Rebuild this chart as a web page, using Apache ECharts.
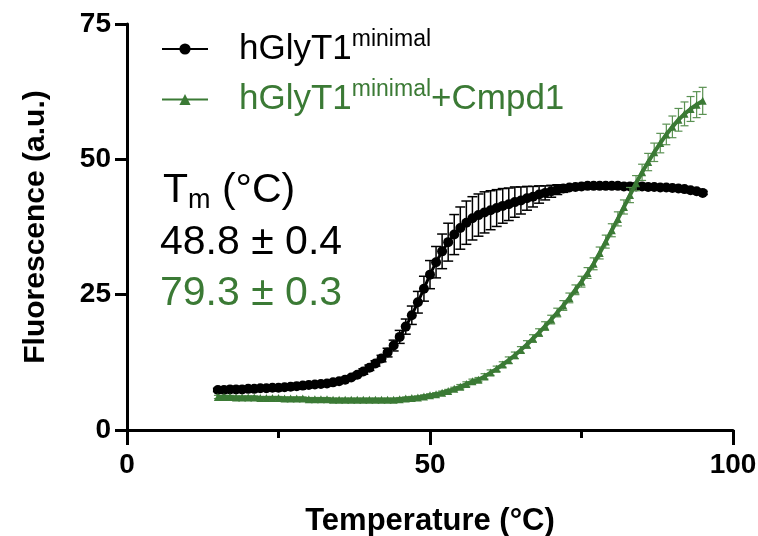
<!DOCTYPE html>
<html>
<head>
<meta charset="utf-8">
<script src="https://cdn.jsdelivr.net/npm/echarts@6/dist/echarts.min.js"></script>
<style>
  html, body { margin: 0; padding: 0; background: #fff; }
  #chart { width: 758px; height: 536px; }
</style>
</head>
<body>
<div id="chart"></div>
<script>
const temps = [15, 16, 17, 18, 19, 20, 21, 22, 23, 24, 25, 26, 27, 28, 29, 30, 31, 32, 33, 34, 35, 36, 37, 38, 39, 40,
	41, 42, 43, 44, 45, 46, 47, 48, 49, 50, 51, 52, 53, 54, 55, 56, 57, 58, 59, 60, 61, 62, 63, 64, 65, 66, 67, 68, 69, 70,
	71, 72, 73, 74, 75, 76, 77, 78, 79, 80, 81, 82, 83, 84, 85, 86, 87, 88, 89, 90, 91, 92, 93, 94, 95];

// hGlyT1 minimal (black)
const apoValues = [7.4, 7.4, 7.5, 7.5, 7.5, 7.6, 7.6, 7.7, 7.7, 7.8, 7.8, 7.9, 8.0, 8.1, 8.2, 8.3, 8.4, 8.5, 8.6, 8.8, 9.0, 9.3, 9.7, 10.2, 10.8, 11.5,
	12.3, 13.2, 14.3, 15.6, 17.2, 19.1, 21.2, 23.6, 26.1, 28.7, 31.0, 33.0, 34.7, 36.1, 37.3, 38.3, 39.1, 39.7, 40.2, 40.6, 41.0, 41.4, 41.7, 42.1, 42.4, 42.8, 43.1, 43.5, 43.8, 44.1,
	44.4, 44.6, 44.8, 44.9, 45.0, 45.1, 45.1, 45.1, 45.1, 45.1, 45.1, 45.0, 45.0, 45.0, 45.0, 44.9, 44.9, 44.8, 44.8, 44.7, 44.6, 44.5, 44.3, 44.1, 43.8];
const apoErrors = [0.3, 0.3, 0.3, 0.3, 0.3, 0.3, 0.3, 0.3, 0.3, 0.3, 0.3, 0.3, 0.3, 0.3, 0.3, 0.3, 0.3, 0.3, 0.3, 0.3, 0.3, 0.3, 0.3, 0.3, 0.5, 0.5,
	0.5, 0.6, 0.8, 1.0, 1.2, 1.4, 1.7, 2.0, 2.3, 2.6, 2.9, 3.2, 3.5, 3.7, 3.9, 4.0, 4.0, 3.9, 3.8, 3.6, 3.4, 3.2, 3.0, 2.8, 2.5, 2.2, 1.9, 1.6, 1.3, 1.1,
	0.9, 0.7, 0.5, 0.4, 0.3, 0.3, 0.3, 0.3, 0.3, 0.3, 0.3, 0.3, 0.3, 0.3, 0.3, 0.3, 0.3, 0.3, 0.3, 0.3, 0.3, 0.3, 0.3, 0.3, 0.3];

// hGlyT1 minimal + Cmpd1 (green)
const cmpdValues = [6.1, 6.1, 6.1, 6.0, 6.0, 6.0, 6.0, 5.9, 5.9, 5.9, 5.9, 5.8, 5.8, 5.8, 5.8, 5.7, 5.7, 5.7, 5.7, 5.6, 5.6, 5.6, 5.6, 5.6, 5.6, 5.6,
	5.6, 5.6, 5.6, 5.6, 5.7, 5.8, 5.9, 6.0, 6.2, 6.4, 6.6, 6.9, 7.2, 7.6, 8.0, 8.5, 9.0, 9.3, 9.9, 10.6, 11.3, 12.1, 12.9, 13.8, 14.8, 15.8, 16.9, 18.0, 19.2, 20.4,
	21.7, 23.0, 24.4, 25.9, 27.4, 29.0, 30.7, 32.7, 34.8, 36.9, 39.0, 41.2, 43.4, 45.6, 47.6, 49.5, 51.3, 53.0, 54.6, 56.0, 57.3, 58.4, 59.3, 60.1, 60.8];
const cmpdErrors = [0.3, 0.3, 0.3, 0.3, 0.3, 0.3, 0.3, 0.3, 0.3, 0.3, 0.3, 0.3, 0.3, 0.3, 0.3, 0.3, 0.3, 0.3, 0.3, 0.3, 0.3, 0.3, 0.3, 0.3, 0.3, 0.3,
	0.3, 0.3, 0.3, 0.3, 0.3, 0.3, 0.3, 0.3, 0.3, 0.3, 0.3, 0.3, 0.3, 0.3, 0.4, 0.4, 0.4, 0.4, 0.5, 0.5, 0.5, 0.5, 0.6, 0.6, 0.6, 0.7, 0.7, 0.7, 0.8, 0.8,
	0.8, 0.9, 0.9, 0.9, 1.0, 1.0, 1.1, 1.1, 1.2, 1.2, 1.3, 1.3, 1.4, 1.4, 1.5, 1.6, 1.7, 1.8, 1.9, 2.0, 2.1, 2.2, 2.3, 2.4, 2.5];

const xTicks = {min: 0, max: 100, interval: 50};
const yTicks = {min: 0, max: 75, interval: 25};

const GREEN = '#3b7a35';
const FONT = '"Liberation Sans", Arial, Helvetica, sans-serif';

const pairs = vals => temps.map((t, i) => [t, vals[i]]);
const errTriples = (vals, errs) => temps.map((t, i) => [t, vals[i], errs[i]]);

function errorBars(color, capHalf, width) {
	return function (params, api) {
		const x = api.value(0);
		const y = api.value(1);
		const e = api.value(2);
		const top = api.coord([x, y + e]);
		const bot = api.coord([x, y - e]);
		const style = {stroke: color, lineWidth: width};
		return {
			type: 'group',
			children: [
				{type: 'line', shape: {x1: top[0], y1: top[1], x2: bot[0], y2: bot[1]}, style},
				{type: 'line', shape: {x1: top[0] - capHalf, y1: top[1], x2: top[0] + capHalf, y2: top[1]}, style},
				{type: 'line', shape: {x1: bot[0] - capHalf, y1: bot[1], x2: bot[0] + capHalf, y2: bot[1]}, style},
			],
		};
	};
}

const chart = echarts.init(document.getElementById('chart'));

const legendRich = {
	p: {fontFamily: FONT, fontSize: 35, lineHeight: 42, color: '#000', padding: [0, 0, 0, 26]},
	s: {fontFamily: FONT, fontSize: 23, lineHeight: 23, color: '#000', verticalAlign: 'top'},
	gp: {fontFamily: FONT, fontSize: 35, lineHeight: 42, color: GREEN, padding: [0, 0, 0, 26]},
	gs: {fontFamily: FONT, fontSize: 23, lineHeight: 23, color: GREEN, verticalAlign: 'top'},
	ga: {fontFamily: FONT, fontSize: 35, lineHeight: 42, color: GREEN},
};

const option = {
	animation: false,
	grid: {left: 127, right: 25, top: 24, bottom: 106, outerBoundsMode: 'none'},
	xAxis: {
		type: 'value',
		...xTicks,
		name: 'Temperature (°C)',
		nameLocation: 'middle',
		nameGap: 76,
		nameTextStyle: {fontFamily: FONT, fontSize: 31, fontWeight: 'bold', color: '#000'},
		axisLine: {lineStyle: {color: '#000', width: 3}},
		axisTick: {length: 15, lineStyle: {color: '#000', width: 3}},
		minorTick: {show: true, splitNumber: 2, length: 8, lineStyle: {color: '#000', width: 3}},
		axisLabel: {fontFamily: FONT, fontSize: 28, fontWeight: 'bold', color: '#000', margin: 21},
		splitLine: {show: false},
	},
	yAxis: {
		type: 'value',
		...yTicks,
		name: 'Fluorescence (a.u.)',
		nameLocation: 'middle',
		nameGap: 76,
		nameTextStyle: {fontFamily: FONT, fontSize: 30, fontWeight: 'bold', color: '#000'},
		axisLine: {show: true, lineStyle: {color: '#000', width: 3}},
		axisTick: {show: true, length: 12, lineStyle: {color: '#000', width: 3}},
		axisLabel: {fontFamily: FONT, fontSize: 28, fontWeight: 'bold', color: '#000', margin: 16},
		splitLine: {show: false},
	},
	legend: {
		left: 156,
		top: 23,
		orient: 'vertical',
		itemWidth: 46,
		itemHeight: 14,
		itemGap: 12,
		data: ['hGlyT1 minimal', 'hGlyT1 minimal + Cmpd1'],
		formatter: name => name === 'hGlyT1 minimal'
			? '{p|hGlyT1}{s|minimal}'
			: '{gp|hGlyT1}{gs|minimal}{ga|+Cmpd1}',
		textStyle: {rich: legendRich},
	},
	graphic: [
		{
			type: 'text',
			left: 163,
			top: 170,
			style: {
				text: '{t|T}{m|m}{t| (°C)}',
				rich: {
					t: {fontFamily: FONT, fontSize: 41, lineHeight: 44, fill: '#000', verticalAlign: 'top'},
					m: {fontFamily: FONT, fontSize: 27, lineHeight: 44, fill: '#000', verticalAlign: 'bottom'},
				},
			},
		},
		{
			type: 'text',
			left: 160,
			top: 222,
			style: {text: '48.8 ± 0.4', font: '41px ' + FONT, fill: '#000'},
		},
		{
			type: 'text',
			left: 160,
			top: 273,
			style: {text: '79.3 ± 0.3', font: '41px ' + FONT, fill: GREEN},
		},
	],
	series: [
		{
			type: 'custom',
			name: 'apoErr',
			renderItem: errorBars('#000', 5, 1.5),
			data: errTriples(apoValues, apoErrors),
			z: 2,
			silent: true,
		},
		{
			type: 'line',
			name: 'hGlyT1 minimal',
			data: pairs(apoValues),
			symbol: 'circle',
			symbolSize: 10,
			lineStyle: {color: '#000', width: 3},
			itemStyle: {color: '#000'},
			z: 3,
		},
		{
			type: 'custom',
			name: 'cmpdErr',
			renderItem: errorBars('#5a9152', 4, 1.2),
			data: errTriples(cmpdValues, cmpdErrors),
			z: 4,
			silent: true,
		},
		{
			type: 'line',
			name: 'hGlyT1 minimal + Cmpd1',
			data: pairs(cmpdValues),
			symbol: 'triangle',
			symbolSize: 8,
			lineStyle: {color: GREEN, width: 4},
			itemStyle: {color: GREEN},
			z: 5,
		},
	],
};

chart.setOption(option);
</script>
</body>
</html>
